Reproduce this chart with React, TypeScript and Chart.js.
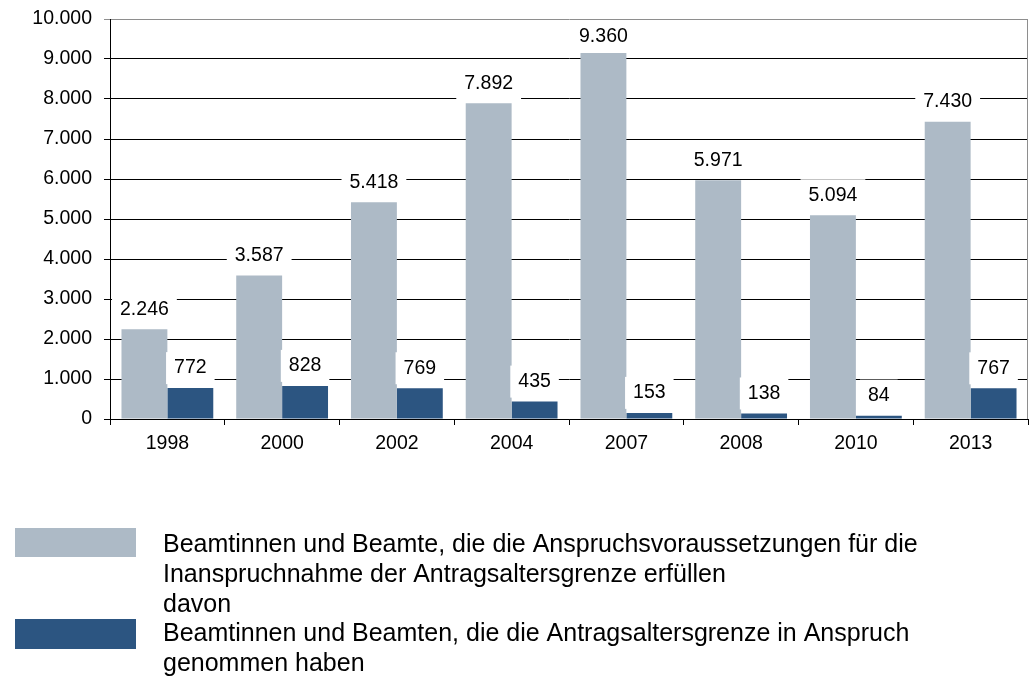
import React, { useEffect, useRef } from "react";
import { Chart, registerables } from "chart.js";

Chart.register(...registerables);

const categories = ["1998", "2000", "2002", "2004", "2007", "2008", "2010", "2013"];
const eligibleValues = [2246, 3587, 5418, 7892, 9360, 5971, 5094, 7430];
const usedValues = [772, 828, 769, 435, 153, 138, 84, 767];
const yTickValues = [0, 1000, 2000, 3000, 4000, 5000, 6000, 7000, 8000, 9000, 10000];

const legendEligibleLines = [
  "Beamtinnen und Beamte, die die Anspruchsvoraussetzungen für die",
  "Inanspruchnahme der Antragsaltersgrenze erfüllen",
];
const legendUsedLines = [
  "davon",
  "Beamtinnen und Beamten, die die Antragsaltersgrenze in Anspruch",
  "genommen haben",
];

const FONT = "'Liberation Sans', Arial, Helvetica, sans-serif";
const FONT_SIZE = 19.5;
const LEGEND_FONT_SIZE = 25;
const GREY = "#adbac6";
const DARK = "#2c5581";

const fmt = (v: number) =>
  String(Math.round(v)).replace(/\B(?=(\d{3})+(?!\d))/g, ".");

const dataLabelPlugin = {
  id: "dataLabels",
  afterDatasetsDraw(chart: any) {
    const ctx = chart.ctx;
    const area = chart.chartArea;
    ctx.save();
    ctx.font = `${FONT_SIZE}px ${FONT}`;
    ctx.textAlign = "center";
    ctx.textBaseline = "middle";
    chart.data.datasets.forEach((ds: any, di: number) => {
      const meta = chart.getDatasetMeta(di);
      meta.data.forEach((el: any, i: number) => {
        const txt = fmt(ds.data[i]);
        const w = ctx.measureText(txt).width;
        const cy = Math.max(el.y - 20, area.top + 18);
        ctx.fillStyle = "#ffffff";
        ctx.fillRect(el.x - w / 2 - 8, cy - 16, w + 16, 32);
        ctx.fillStyle = "#000000";
        ctx.fillText(txt, el.x, cy);
      });
    });
    ctx.restore();
  },
};

const framePlugin = {
  id: "frame",
  afterDatasetsDraw(chart: any) {
    const ctx = chart.ctx;
    const a = chart.chartArea;
    ctx.save();
    ctx.strokeStyle = "#8e8e8e";
    ctx.lineWidth = 1;
    ctx.beginPath();
    const x = Math.round(a.right) - 0.5;
    ctx.moveTo(x, a.top);
    ctx.lineTo(x, a.bottom);
    ctx.stroke();
    ctx.restore();
  },
};

const legendPlugin = {
  id: "customLegend",
  afterDraw(chart: any) {
    const ctx = chart.ctx;
    ctx.save();
    const ds = chart.data.datasets;
    ctx.fillStyle = ds[0].backgroundColor;
    ctx.fillRect(15, 528, 121, 29);
    ctx.fillStyle = ds[1].backgroundColor;
    ctx.fillRect(15, 619, 121, 30);
    ctx.fillStyle = "#000000";
    ctx.font = `${LEGEND_FONT_SIZE}px ${FONT}`;
    ctx.textAlign = "left";
    ctx.textBaseline = "alphabetic";
    const lines = [...legendEligibleLines, ...legendUsedLines];
    lines.forEach((ln, i) => {
      ctx.fillText(ln, 163, 552 + i * 29.8);
    });
    ctx.restore();
  },
};

export default function App() {
  const ref = useRef<HTMLCanvasElement | null>(null);

  useEffect(() => {
    document.body.style.margin = "0";
    if (!ref.current) return;
    const chart = new Chart(ref.current, {
      type: "bar",
      data: {
        labels: categories,
        datasets: [
          {
            label: legendEligibleLines.join(" "),
            data: eligibleValues,
            backgroundColor: GREY,
            borderWidth: 0,
            categoryPercentage: 0.8,
            barPercentage: 1,
          },
          {
            label: legendUsedLines.join(" "),
            data: usedValues,
            backgroundColor: DARK,
            borderWidth: 0,
            categoryPercentage: 0.8,
            barPercentage: 1,
          },
        ],
      },
      options: {
        responsive: false,
        animation: false,
        layout: { padding: { top: 19, left: 0, right: 1, bottom: 218 } },
        plugins: {
          legend: { display: false },
          tooltip: { enabled: false },
        },
        scales: {
          x: {
            grid: {
              offset: true,
              drawOnChartArea: false,
              drawTicks: true,
              tickLength: 6,
              color: "#000000",
            },
            border: { color: "#000000", width: 1 },
            ticks: {
              color: "#000000",
              font: { family: FONT, size: FONT_SIZE },
              padding: 7,
              maxRotation: 0,
            },
            afterFit: (s: any) => {
              s.height = 40;
              s.paddingLeft = 0;
              s.paddingRight = 0;
            },
          },
          y: {
            min: 0,
            max: 10000,
            afterBuildTicks: (s: any) => {
              s.ticks = yTickValues.map((v) => ({ value: v }));
            },
            ticks: {
              color: "#000000",
              font: { family: FONT, size: FONT_SIZE },
              padding: 12,
              callback: (v: any) => fmt(Number(v)),
            },
            grid: {
              color: (c: any) =>
                c.tick && c.tick.value === 10000 ? "#8e8e8e" : "#000000",
              tickLength: 6,
              lineWidth: 1,
            },
            border: { color: "#000000", width: 1 },
            afterFit: (s: any) => {
              s.width = 110;
              s.paddingTop = 0;
              s.paddingBottom = 0;
            },
          },
        },
      },
      plugins: [framePlugin, dataLabelPlugin, legendPlugin],
    } as any);
    return () => chart.destroy();
  }, []);

  return (
    <canvas
      ref={ref}
      width={1029}
      height={677}
      style={{ display: "block", width: 1029, height: 677 }}
    />
  );
}
